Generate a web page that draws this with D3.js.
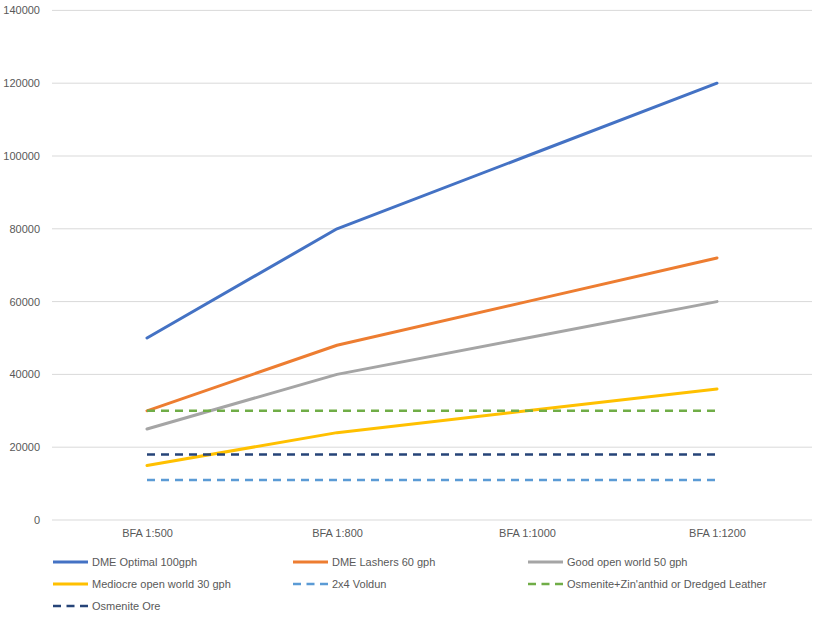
<!DOCTYPE html>
<html><head><meta charset="utf-8">
<script src="https://cdn.jsdelivr.net/npm/d3@7"></script>
<style>body{margin:0;background:#fff;} text{font-family:"Liberation Sans",Arial,sans-serif;}</style>
</head><body>
<svg id="c" width="821" height="620"></svg>
<script>
const categories = ["BFA 1:500","BFA 1:800","BFA 1:1000","BFA 1:1200"];
const dmeOptimal = [50000,80000,100000,120000];
const dmeLashers = [30000,48000,60000,72000];
const goodOpen = [25000,40000,50000,60000];
const mediocreOpen = [15000,24000,30000,36000];
const voldun = [11000,11000,11000,11000];
const osmeniteZin = [30000,30000,30000,30000];
const osmeniteOre = [18000,18000,18000,18000];
const yTicks = [0,20000,40000,60000,80000,100000,120000,140000];

const series = [
  {name:"DME Optimal 100gph", values:dmeOptimal, color:"#4472C4", dash:null},
  {name:"DME Lashers 60 gph", values:dmeLashers, color:"#ED7D31", dash:null},
  {name:"Good open world 50 gph", values:goodOpen, color:"#A5A5A5", dash:null},
  {name:"Mediocre open world 30 gph", values:mediocreOpen, color:"#FFC000", dash:null},
  {name:"2x4 Voldun", values:voldun, color:"#5B9BD5", dash:"8,6"},
  {name:"Osmenite+Zin'anthid or Dredged Leather", values:osmeniteZin, color:"#70AD47", dash:"8,6"},
  {name:"Osmenite Ore", values:osmeniteOre, color:"#264478", dash:"8,6"}
];

const svg = d3.select("#c");
const pLeft = 52, pRight = 812, pTop = 10.4, pBottom = 520;
const x = d3.scalePoint().domain(categories).range([pLeft, pRight]).padding(0.5);
const y = d3.scaleLinear().domain([0,140000]).range([pBottom, pTop]);
const FONT = '"Liberation Sans",Arial,sans-serif';

// gridlines
svg.append("g").selectAll("line").data(yTicks).join("line")
  .attr("x1", pLeft).attr("x2", pRight)
  .attr("y1", d=>y(d)).attr("y2", d=>y(d))
  .attr("stroke", "#D9D9D9").attr("stroke-width", 1);

// y axis labels
const yAxis = d3.axisLeft(y).tickValues(yTicks).tickFormat(d3.format("d")).tickSize(0).tickPadding(0);
const ga = svg.append("g").attr("transform", `translate(${pLeft-12},0)`).call(yAxis);
ga.select(".domain").remove();
ga.selectAll("text").attr("fill","#595959").style("font-size","11px").style("font-family",FONT);

// x axis labels
const xAxis = d3.axisBottom(x).tickSize(0).tickPadding(0);
const gx = svg.append("g").attr("transform", `translate(0,${pBottom+9})`).call(xAxis);
gx.select(".domain").remove();
gx.selectAll("text").attr("fill","#595959").style("font-size","11px").style("font-family",FONT);

// lines
const line = d3.line().x((d,i)=>x(categories[i])).y(d=>y(d));
svg.append("g").selectAll("path").data(series).join("path")
  .attr("d", d=>line(d.values))
  .attr("fill","none")
  .attr("stroke", d=>d.color)
  .attr("stroke-width", d=>d.dash ? 2.5 : 3)
  .attr("stroke-linecap", d=>d.dash ? "butt" : "round")
  .attr("stroke-linejoin","round")
  .attr("stroke-dasharray", d=>d.dash);

// legend
const colX = [53, 293, 528];
const rowY = [562, 584, 606];
const lg = svg.append("g").selectAll("g").data(series).join("g")
  .attr("transform", (d,i)=>`translate(${colX[i%3]},${rowY[Math.floor(i/3)]})`);
lg.append("line").attr("x1",0).attr("x2",35).attr("y1",0).attr("y2",0)
  .attr("stroke", d=>d.color).attr("stroke-width", d=>d.dash ? 2.5 : 3)
  .attr("stroke-dasharray", d=>d.dash ? "8,5.5" : null);
lg.append("text").attr("x",39).attr("y",0).attr("dy","0.35em")
  .attr("fill","#595959").style("font-size","11px").style("font-family",FONT).text(d=>d.name);
</script>
</body></html>
